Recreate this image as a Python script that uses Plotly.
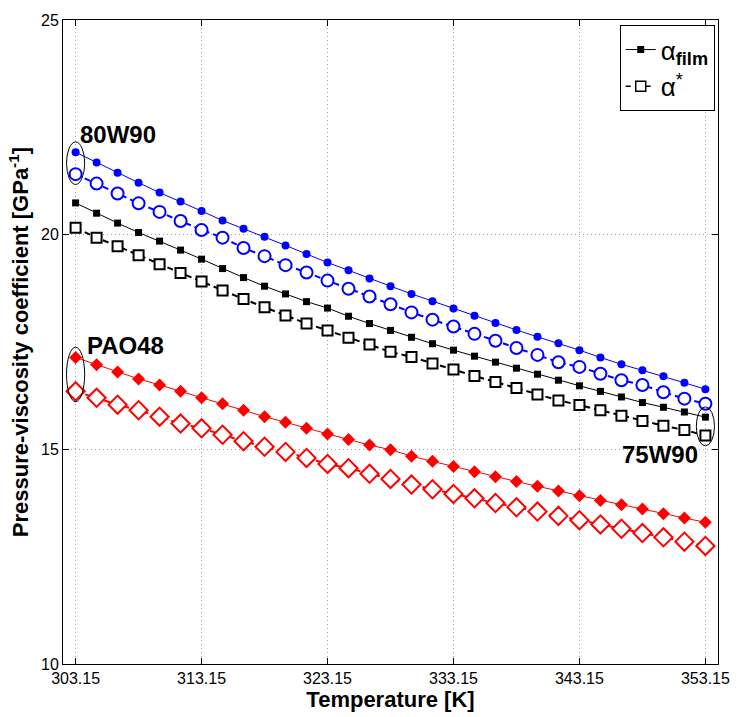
import plotly.graph_objects as go

# Temperatures [K], 31 equally spaced points from 303.15 K to 353.15 K
temperature = [303.15 + i * 50.0 / 30 for i in range(31)]
x_ticks = [303.15, 313.15, 323.15, 333.15, 343.15, 353.15]
x_tick_labels = ["303.15", "313.15", "323.15", "333.15", "343.15", "353.15"]
y_ticks = [10, 15, 20, 25]

# 80W90
alpha_film_80w90 = [21.92, 21.68, 21.44, 21.21, 20.98, 20.77, 20.55, 20.33, 20.14, 19.95,
                    19.75, 19.55, 19.35, 19.17, 18.98, 18.80, 18.62, 18.45, 18.28, 18.11,
                    17.94, 17.78, 17.62, 17.47, 17.31, 17.14, 16.98, 16.84, 16.70, 16.55,
                    16.40]
alpha_star_80w90 = [21.41, 21.19, 20.96, 20.73, 20.53, 20.32, 20.11, 19.93, 19.69, 19.50,
                    19.29, 19.12, 18.93, 18.74, 18.56, 18.38, 18.19, 18.02, 17.86, 17.69,
                    17.53, 17.36, 17.20, 17.03, 16.92, 16.76, 16.61, 16.50, 16.33, 16.18,
                    16.06]

# 75W90
alpha_film_75w90 = [20.74, 20.50, 20.27, 20.05, 19.85, 19.64, 19.43, 19.21, 19.00, 18.80,
                    18.62, 18.44, 18.29, 18.10, 17.93, 17.77, 17.61, 17.46, 17.31, 17.17,
                    17.03, 16.89, 16.75, 16.61, 16.48, 16.35, 16.22, 16.09, 15.98, 15.87,
                    15.75]
alpha_star_75w90 = [20.16, 19.93, 19.73, 19.52, 19.31, 19.11, 18.91, 18.70, 18.50, 18.31,
                    18.12, 17.93, 17.77, 17.60, 17.44, 17.27, 17.15, 17.00, 16.86, 16.71,
                    16.57, 16.43, 16.28, 16.14, 16.03, 15.91, 15.78, 15.66, 15.55, 15.45,
                    15.32]

# PAO48
alpha_film_pao48 = [17.14, 16.97, 16.80, 16.64, 16.50, 16.35, 16.20, 16.06, 15.91, 15.76,
                    15.63, 15.49, 15.36, 15.23, 15.10, 14.99, 14.84, 14.72, 14.60, 14.48,
                    14.36, 14.25, 14.14, 14.03, 13.92, 13.81, 13.71, 13.61, 13.50, 13.40,
                    13.30]
alpha_star_pao48 = [16.35, 16.20, 16.04, 15.91, 15.76, 15.60, 15.49, 15.34, 15.19, 15.06,
                    14.94, 14.80, 14.66, 14.56, 14.43, 14.31, 14.18, 14.07, 13.96, 13.86,
                    13.75, 13.65, 13.55, 13.45, 13.35, 13.25, 13.15, 13.05, 12.95, 12.85,
                    12.75]

BLUE = "rgb(0,0,255)"
RED = "rgb(255,0,0)"
BLACK = "rgb(0,0,0)"
FONT = "Liberation Sans, Arial, Helvetica, sans-serif"

fig = go.Figure()


def film_trace(y, color, symbol, size):
    return go.Scatter(x=temperature, y=y, mode="lines+markers", showlegend=False,
                      line=dict(color=color, width=1),
                      marker=dict(symbol=symbol, size=size, color=color))


def star_trace(y, color, symbol, size):
    return go.Scatter(x=temperature, y=y, mode="lines+markers", showlegend=False,
                      line=dict(color=color, width=2, dash="6px,4px"),
                      marker=dict(symbol=symbol, size=size, color="white",
                                  line=dict(color=color, width=2)))


fig.add_trace(film_trace(alpha_film_80w90, BLUE, "circle", 8))
fig.add_trace(star_trace(alpha_star_80w90, BLUE, "circle", 12))
fig.add_trace(film_trace(alpha_film_75w90, BLACK, "square", 7))
fig.add_trace(star_trace(alpha_star_75w90, BLACK, "square", 10))
fig.add_trace(film_trace(alpha_film_pao48, RED, "diamond", 10))
fig.add_trace(star_trace(alpha_star_pao48, RED, "diamond", 14))

# legend entries
fig.add_trace(go.Scatter(x=[None], y=[None], mode="lines+markers",
                         name="α<sub><b>film</b></sub>",
                         line=dict(color=BLACK, width=1),
                         marker=dict(symbol="square", size=7, color=BLACK)))
fig.add_trace(go.Scatter(x=[None], y=[None], mode="lines+markers",
                         name="α<sup>*</sup>",
                         line=dict(color=BLACK, width=1.5, dash="5px,5px"),
                         marker=dict(symbol="square", size=10, color="white",
                                     line=dict(color=BLACK, width=1.5))))

# ellipses grouping the end points of each lubricant
pad_x, pad_y = 0.72, 0.24


def ellipse(i, top, bottom):
    return dict(type="circle", xref="x", yref="y",
                x0=temperature[i] - pad_x, x1=temperature[i] + pad_x,
                y0=bottom[i] - pad_y, y1=top[i] + pad_y,
                line=dict(color=BLACK, width=1))


fig.add_shape(ellipse(0, alpha_film_80w90, alpha_star_80w90))
fig.add_shape(ellipse(0, alpha_film_pao48, alpha_star_pao48))
fig.add_shape(ellipse(-1, alpha_film_75w90, alpha_star_75w90))

label_font = dict(family=FONT, size=24, color=BLACK)
fig.add_annotation(x=temperature[0] + 0.2, y=alpha_film_80w90[0] + 0.42, text="<b>80W90</b>",
                   showarrow=False, xanchor="left", yanchor="middle", font=label_font)
fig.add_annotation(x=temperature[0] + 0.75, y=alpha_film_pao48[0] + 0.29, text="<b>PAO48</b>",
                   showarrow=False, xanchor="left", yanchor="middle", font=label_font)
fig.add_annotation(x=temperature[-1] - 0.4, y=alpha_star_75w90[-1] - 0.45, text="<b>75W90</b>",
                   showarrow=False, xanchor="right", yanchor="middle", font=label_font)

axis_common = dict(showline=True, linecolor=BLACK, linewidth=1, mirror="ticks",
                   ticks="inside", ticklen=6, tickcolor=BLACK,
                   showgrid=True, gridcolor="rgb(160,160,160)", gridwidth=1,
                   griddash="1px,3px", zeroline=False,
                   tickfont=dict(family=FONT, size=16, color=BLACK))

fig.update_xaxes(range=[302.15, 354.15], tickvals=x_ticks, ticktext=x_tick_labels,
                 title=dict(text="<b>Temperature [K]</b>", standoff=2,
                            font=dict(family=FONT, size=22, color=BLACK)),
                 **axis_common)
fig.update_yaxes(range=[10, 25], tickvals=y_ticks,
                 title=dict(text="<b>Pressure-viscosity coefficient [GPa<sup>-1</sup>]</b>",
                            standoff=6, font=dict(family=FONT, size=22, color=BLACK)),
                 **axis_common)

fig.update_layout(
    width=742, height=717,
    margin=dict(l=63, r=12, t=12, b=47),
    paper_bgcolor="white", plot_bgcolor="white",
    font=dict(family=FONT, color=BLACK),
    legend=dict(x=0.995, y=0.992, xanchor="right", yanchor="top",
                bgcolor="white", bordercolor=BLACK, borderwidth=1,
                font=dict(family=FONT, size=26, color=BLACK),
                itemwidth=30, tracegroupgap=6),
)

fig.write_html("out.html")
